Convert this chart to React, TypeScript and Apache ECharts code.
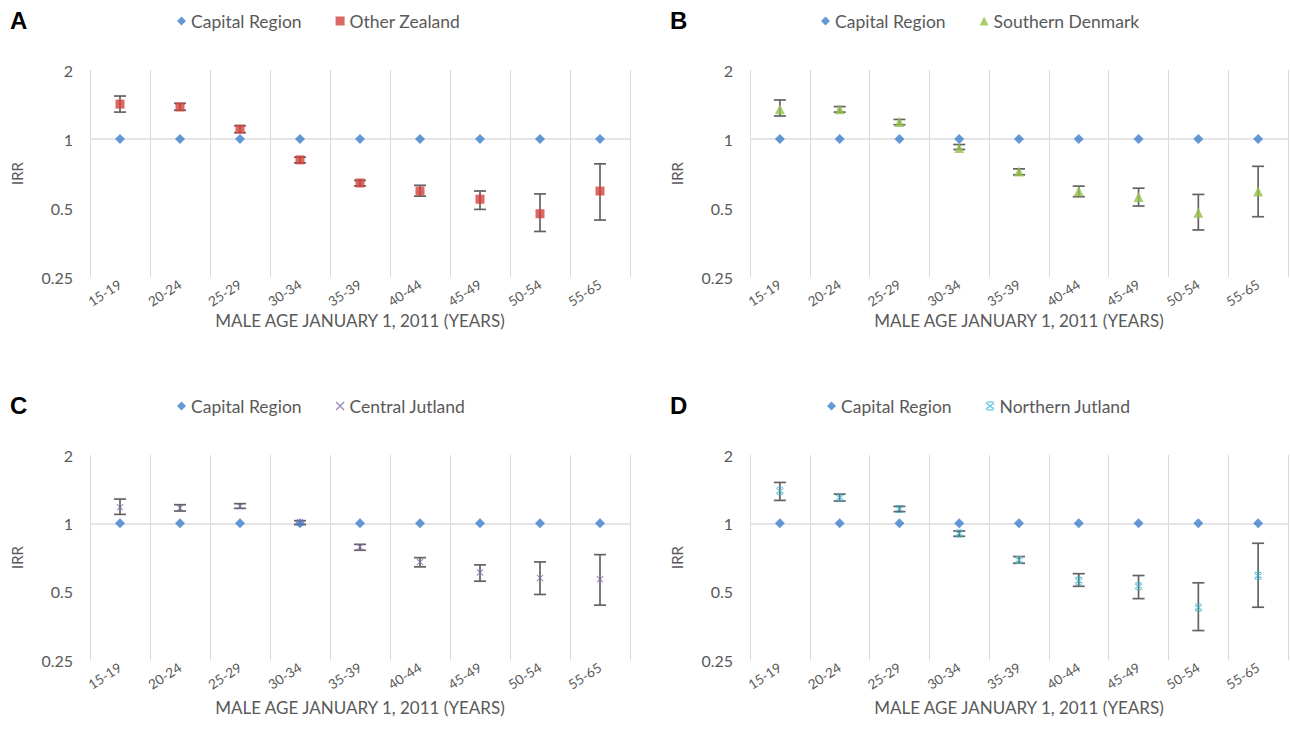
import React, { useEffect, useRef } from "react";
import * as echarts from "echarts";

const categories = ["15-19", "20-24", "25-29", "30-34", "35-39", "40-44", "45-49", "50-54", "55-65"];
const yTicks = [0.25, 0.5, 1, 2];
const capital = [1, 1, 1, 1, 1, 1, 1, 1, 1];

const zealandIRR = [1.42, 1.38, 1.105, 0.811, 0.643, 0.593, 0.546, 0.472, 0.593];
const zealandLow = [1.31, 1.335, 1.066, 0.787, 0.624, 0.563, 0.493, 0.395, 0.443];
const zealandHigh = [1.54, 1.43, 1.143, 0.833, 0.66, 0.628, 0.593, 0.576, 0.779];

const southernIRR = [1.35, 1.35, 1.185, 0.914, 0.722, 0.592, 0.558, 0.477, 0.59];
const southernLow = [1.26, 1.31, 1.154, 0.9, 0.698, 0.56, 0.51, 0.401, 0.458];
const southernHigh = [1.48, 1.385, 1.217, 0.946, 0.741, 0.623, 0.61, 0.573, 0.76];

const centralIRR = [1.176, 1.167, 1.19, 1.01, 0.787, 0.676, 0.607, 0.575, 0.567];
const centralLow = [1.095, 1.133, 1.164, 0.987, 0.761, 0.643, 0.556, 0.486, 0.436];
const centralHigh = [1.279, 1.208, 1.221, 1.027, 0.808, 0.706, 0.656, 0.676, 0.728];

const northernIRR = [1.392, 1.301, 1.156, 0.901, 0.69, 0.558, 0.528, 0.426, 0.587];
const northernLow = [1.262, 1.253, 1.126, 0.877, 0.667, 0.528, 0.466, 0.337, 0.427];
const northernHigh = [1.514, 1.345, 1.188, 0.925, 0.714, 0.6, 0.589, 0.547, 0.817];

const panelLetters = ["A", "B", "C", "D"];
const xTitle = "MALE AGE JANUARY 1, 2011 (YEARS)";
const yTitle = "IRR";

const FONT = "Lato, 'Open Sans', sans-serif";
const GREY = "#595959";

const X_PATH = "path://M1,0 L5,4 L9,0 L10,1 L6,5 L10,9 L9,10 L5,6 L1,10 L0,9 L4,5 L0,1 Z";
const STAR_PATH =
  "path://M1,1.5 L5,4 L9,1.5 L10,2.5 L6,5 L10,7.5 L9,8.5 L5,6 L1,8.5 L0,7.5 L4,5 L0,2.5 Z M1,0 L9,0 L9,1.4 L1,1.4 Z M1,8.6 L9,8.6 L9,10 L1,10 Z";

type Panel = {
  name: string;
  irr: number[];
  low: number[];
  high: number[];
  color: string;
  symbol: string;
  size: number;
  grid: { left: number; top: number; width: number; height: number };
  legendLeft: number;
  legendTop: number;
  letterPos: [number, number];
  titleGap: number;
};

const panels: Panel[] = [
  {
    name: "Other Zealand", irr: zealandIRR, low: zealandLow, high: zealandHigh,
    color: "#d2423b", symbol: "rect", size: 9,
    grid: { left: 90, top: 70, width: 540, height: 207 },
    legendLeft: 172, legendTop: 7, letterPos: [10, 8], titleGap: 35,
  },
  {
    name: "Southern Denmark", irr: southernIRR, low: southernLow, high: southernHigh,
    color: "#95c24b", symbol: "triangle", size: 10,
    grid: { left: 750, top: 70, width: 538, height: 207 },
    legendLeft: 816, legendTop: 7, letterPos: [670, 8], titleGap: 35,
  },
  {
    name: "Central Jutland", irr: centralIRR, low: centralLow, high: centralHigh,
    color: "#8668b0", symbol: X_PATH, size: 7,
    grid: { left: 90, top: 455, width: 540, height: 205 },
    legendLeft: 172, legendTop: 392, letterPos: [10, 393], titleGap: 39,
  },
  {
    name: "Northern Jutland", irr: northernIRR, low: northernLow, high: northernHigh,
    color: "#3fb6d3", symbol: STAR_PATH, size: 8,
    grid: { left: 750, top: 455, width: 538, height: 205 },
    legendLeft: 822, legendTop: 392, letterPos: [670, 393], titleGap: 39,
  },
];

function buildOption() {
  const grid: any[] = [];
  const xAxis: any[] = [];
  const yAxis: any[] = [];
  const series: any[] = [];
  const legend: any[] = [];
  const graphic: any[] = [];

  panels.forEach((p, i) => {
    grid.push({ ...p.grid, containLabel: false });
    xAxis.push({
      type: "category",
      gridIndex: i,
      data: categories,
      boundaryGap: true,
      axisLine: { show: false },
      axisTick: { show: false },
      splitLine: { show: true, interval: 0, lineStyle: { color: "#d9d9d9", width: 1 } },
      axisLabel: { interval: 0, rotate: 33, color: GREY, fontSize: 13.5, fontFamily: FONT, margin: 6 },
      name: xTitle,
      nameLocation: "middle",
      nameGap: p.titleGap,
      nameMoveOverlap: false,
      nameTextStyle: { color: GREY, fontSize: 17, fontFamily: FONT },
    });
    yAxis.push({
      type: "log",
      logBase: 2,
      gridIndex: i,
      min: yTicks[0],
      max: yTicks[yTicks.length - 1],
      splitNumber: 3,
      axisLine: { show: false },
      axisTick: { show: false },
      splitLine: { show: false },
      axisLabel: {
        color: GREY, fontSize: 16, fontFamily: FONT, margin: 17,
        formatter: (v: number) => String(+v.toPrecision(3)),
      },
      name: yTitle,
      nameLocation: "middle",
      nameGap: 66,
      nameMoveOverlap: false,
      nameTextStyle: { color: GREY, fontSize: 15, fontFamily: FONT },
    });

    // error bars
    series.push({
      type: "custom",
      name: "err" + i,
      xAxisIndex: i,
      yAxisIndex: i,
      z: 1,
      silent: true,
      data: categories.map((_, k) => [k, p.low[k], p.high[k]]),
      encode: { x: 0, y: [1, 2] },
      renderItem: (params: any, api: any) => {
        const x = api.value(0);
        const lo = api.coord([x, api.value(1)]);
        const hi = api.coord([x, api.value(2)]);
        const hw = 6;
        const style = { stroke: "#636363", lineWidth: 1.7 };
        return {
          type: "group",
          children: [
            { type: "line", shape: { x1: lo[0], y1: lo[1], x2: hi[0], y2: hi[1] }, style },
            { type: "line", shape: { x1: lo[0] - hw, y1: lo[1], x2: lo[0] + hw, y2: lo[1] }, style },
            { type: "line", shape: { x1: hi[0] - hw, y1: hi[1], x2: hi[0] + hw, y2: hi[1] }, style },
          ],
        };
      },
    });

    series.push({
      type: "scatter",
      name: "Capital Region",
      xAxisIndex: i,
      yAxisIndex: i,
      z: 3,
      symbol: "diamond",
      symbolSize: 10,
      itemStyle: { color: "#3d7fcc" },
      data: capital,
      markLine: {
        silent: true,
        symbol: "none",
        label: { show: false },
        lineStyle: { color: "#dcdcdc", type: "solid", width: 1.5 },
        data: [{ yAxis: 1 }],
        z: 0,
      },
    });
    series.push({
      type: "scatter",
      name: p.name,
      xAxisIndex: i,
      yAxisIndex: i,
      z: 4,
      symbol: p.symbol,
      symbolSize: p.size,
      itemStyle: { color: p.color },
      data: p.irr,
    });

    legend.push({
      left: p.legendLeft,
      top: p.legendTop,
      data: ["Capital Region", p.name],
      itemWidth: 9,
      itemHeight: 9,
      itemGap: 34,
      textStyle: { color: GREY, fontSize: 17.5, fontFamily: FONT },
      selectedMode: false,
    });

    graphic.push({
      type: "text",
      left: p.letterPos[0],
      top: p.letterPos[1],
      style: {
        text: panelLetters[i],
        fill: "#000",
        font: "bold 24px 'Liberation Sans', Arial, sans-serif",
      },
    });
  });

  return { animation: false, backgroundColor: "#fff", grid, xAxis, yAxis, series, legend, graphic };
}

export default function App() {
  const ref = useRef<HTMLDivElement>(null);
  useEffect(() => {
    if (!ref.current) return;
    const chart = echarts.init(ref.current, undefined, { renderer: "svg" });
    chart.setOption(buildOption() as any);
    return () => chart.dispose();
  }, []);
  return (
    <div
      ref={ref}
      style={{ position: "absolute", left: 0, top: 0, width: 1290, height: 741, background: "#fff" }}
    />
  );
}
